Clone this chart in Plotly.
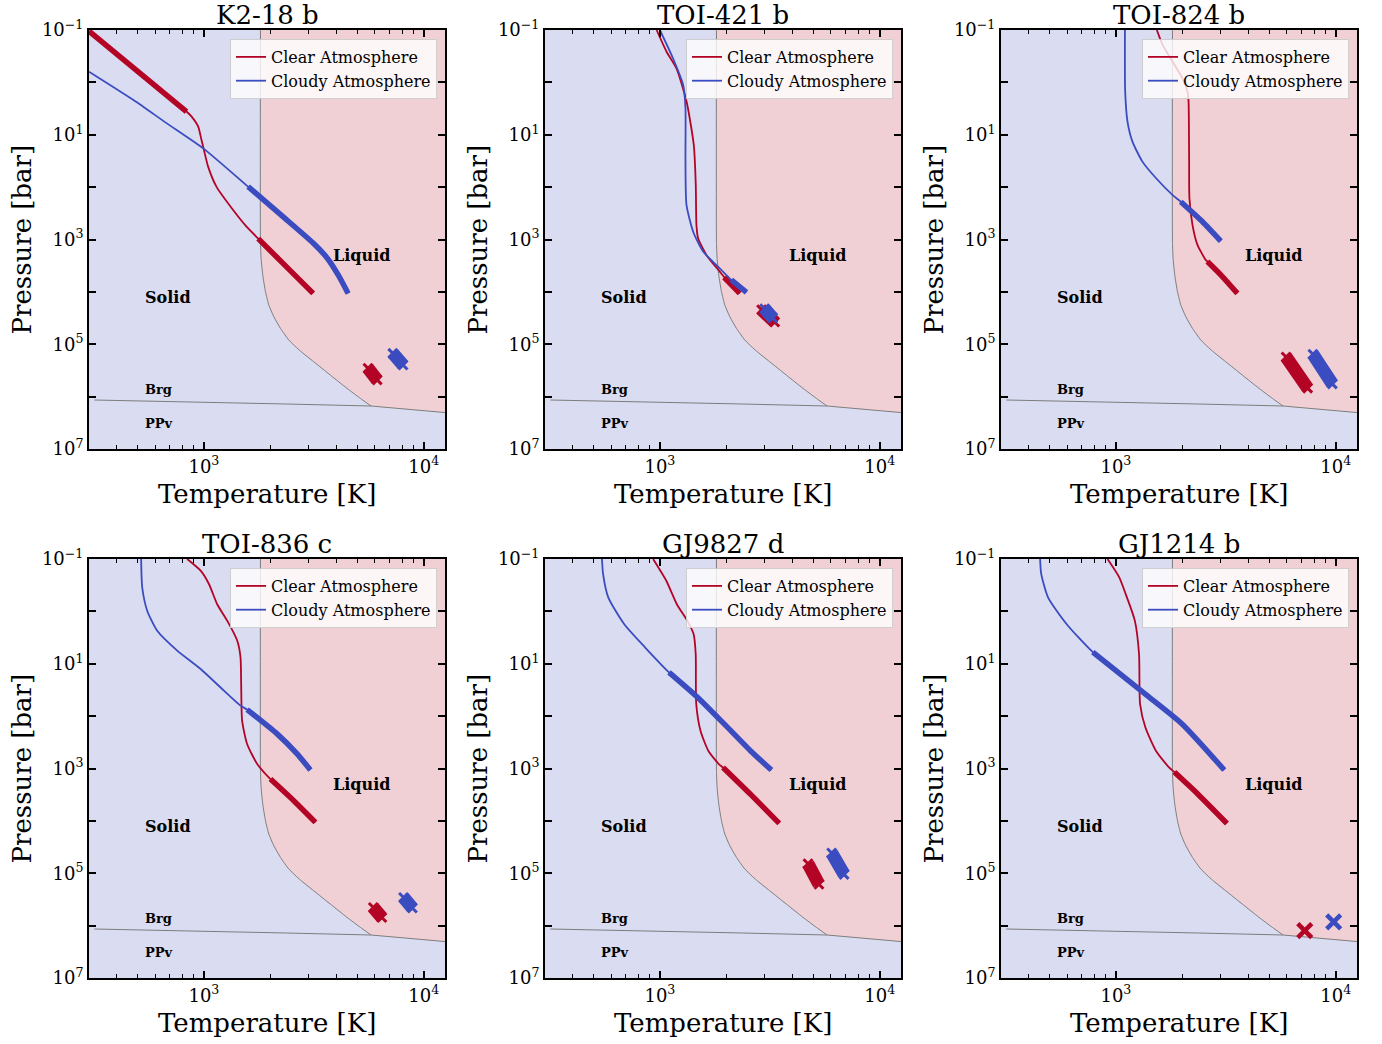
import numpy as np
import plotly.graph_objects as go

# ---------------- data ----------------
PLANETS = ["K2-18 b", "TOI-421 b", "TOI-824 b", "TOI-836 c", "GJ9827 d", "GJ1214 b"]

# phase boundaries (shared)
MELT_T = [1808, 1808, 1820, 1852, 1906, 1974, 2080, 2230, 2433, 2748, 3160, 3760, 4480, 5150, 5758]
MELT_P = [0.08, 1100, 2290, 4770, 9930, 1.79e4, 2.98e4, 4.98e4, 8.3e4, 1.35e5, 2.16e5, 3.88e5, 6.97e5, 1.08e6, 1.51e6]
BRG_T = [317, 811, 2308, 5758, 12300, 14000]
BRG_P = [1.16e6, 1.25e6, 1.38e6, 1.51e6, 2.03e6, 2.1e6]

# K2-18 b
K218_CLEAR_T = [300, 833, 879, 942, 975, 1000, 1045, 1140, 1358, 1563, 1766, 2370, 3140]
K218_CLEAR_P = [0.105, 3.6, 4.5, 7.0, 12.6, 19.5, 40.6, 98, 274, 570, 960, 3300, 10700]
K218_CLEAR_THICK_T = [300, 833, None, 1766, 2370, 3140]
K218_CLEAR_THICK_P = [0.105, 3.6, None, 960, 3300, 10700]
K218_CLOUDY_T = [300, 478, 676, 993, 1589, 2290, 3140, 3650, 4100, 4530]
K218_CLOUDY_P = [0.625, 2.17, 6.0, 18.2, 98, 367, 1170, 2300, 4900, 10700]
K218_CLOUDY_THICK_T = [1589, 2290, 3140, 3650, 4100, 4530]
K218_CLOUDY_THICK_P = [98, 367, 1170, 2300, 4900, 10700]
K218_MK_CLEAR_T = [5580, 6140]
K218_MK_CLEAR_P = [2.88e5, 4.8e5]
K218_MK_CLOUDY_T = [7240, 8050]
K218_MK_CLOUDY_P = [1.49e5, 2.49e5]

# TOI-421 b
T421_CLEAR_T = [966, 1072, 1189, 1321, 1426, 1456, 1466, 1492, 1629, 1872, 2010, 2307]
T421_CLEAR_P = [0.1, 0.26, 0.54, 2.3, 15.7, 91, 525, 950, 1990, 4100, 5900, 10700]
T421_CLEAR_THICK_T = [1960, 2307]
T421_CLEAR_THICK_P = [5300, 10700]
T421_CLOUDY_T = [1000, 1148, 1276, 1307, 1307, 1321, 1417, 1572, 1872, 2113, 2477]
T421_CLOUDY_P = [0.1, 0.35, 1.12, 3.1, 28, 218, 710, 1700, 3550, 5900, 10200]
T421_CLOUDY_THICK_T = [2113, 2477]
T421_CLOUDY_THICK_P = [5900, 10200]
T421_MK_CLEAR_T = [2904, 3327]
T421_MK_CLEAR_P = [2.2e4, 3.76e4]
T421_MK_CLOUDY_T = [2998, 3260]
T421_MK_CLOUDY_P = [2.1e4, 3.15e4]

# TOI-824 b
T824_CLEAR_T = [1535, 1629, 1808, 2008, 2117, 2140, 2153, 2160, 2230, 2350, 2563, 2608, 3050, 3570]
T824_CLEAR_P = [0.1, 0.19, 0.40, 0.84, 1.5, 2.3, 28, 163, 525, 1270, 2460, 2640, 5100, 10700]
T824_CLEAR_THICK_T = [2608, 3050, 3570]
T824_CLEAR_THICK_P = [2640, 5100, 10700]
T824_CLOUDY_T = [1099, 1102, 1129, 1189, 1320, 1520, 1808, 1972, 2477, 3000]
T824_CLOUDY_P = [0.1, 1.5, 5.6, 13.5, 32.6, 67, 141, 190, 457, 1070]
T824_CLOUDY_THICK_T = [1972, 2477, 3000]
T824_CLOUDY_THICK_P = [190, 457, 1070]
T824_MK_CLEAR_T = [5950, 7450]
T824_MK_CLEAR_P = [1.75e5, 6.9e5]
T824_MK_CLOUDY_T = [7880, 9650]
T824_MK_CLOUDY_P = [1.55e5, 5.7e5]

# TOI-836 c
T836_CLEAR_T = [839, 966, 1054, 1149, 1276, 1417, 1467, 1478, 1492, 1572, 1748, 1972, 2008, 2563, 3217]
T836_CLEAR_P = [0.1, 0.167, 0.30, 0.73, 1.5, 3.6, 7.5, 28, 122, 340, 820, 1480, 1590, 4120, 10700]
T836_CLEAR_THICK_T = [2008, 2563, 3217]
T836_CLEAR_THICK_P = [1590, 4120, 10700]
T836_CLOUDY_T = [518, 524, 552, 613, 756, 966, 1233, 1467, 1572, 2153, 2655, 3053]
T836_CLOUDY_P = [0.1, 0.35, 0.97, 2.34, 5.6, 12.6, 32.6, 63, 75, 218, 525, 1070]
T836_CLOUDY_THICK_T = [1572, 2153, 2655, 3053]
T836_CLOUDY_THICK_P = [75, 218, 525, 1070]
T836_MK_CLEAR_T = [5900, 6450]
T836_MK_CLEAR_P = [4.5e5, 7.0e5]
T836_MK_CLOUDY_T = [8100, 8880]
T836_MK_CLOUDY_P = [2.9e5, 4.6e5]

# GJ9827 d
G9827_CLEAR_T = [931, 1069, 1194, 1331, 1423, 1455, 1463, 1530, 1660, 1853, 1937, 2580, 3490]
G9827_CLEAR_P = [0.1, 0.26, 0.73, 1.5, 2.7, 6.5, 59, 190, 457, 822, 955, 3090, 11200]
G9827_CLEAR_THICK_T = [1937, 2580, 3490]
G9827_CLEAR_THICK_P = [955, 3090, 11200]
G9827_CLOUDY_T = [545, 551, 582, 687, 857, 1100, 1486, 1960, 2580, 3216]
G9827_CLOUDY_P = [0.1, 0.19, 0.54, 1.74, 4.9, 14.6, 44, 141, 457, 1070]
G9827_CLOUDY_THICK_T = [1100, 1486, 1960, 2580, 3216]
G9827_CLOUDY_THICK_P = [14.6, 44, 141, 457, 1070]
G9827_MK_CLEAR_T = [4720, 5290]
G9827_MK_CLEAR_P = [6.6e4, 1.62e5]
G9827_MK_CLOUDY_T = [6050, 6880]
G9827_MK_CLOUDY_P = [4.1e4, 1.05e5]

# GJ1214 b
G1214_CLEAR_T = [916, 1033, 1122, 1219, 1274, 1288, 1361, 1520, 1744, 1844, 2362, 3200]
G1214_CLEAR_P = [0.1, 0.22, 0.54, 1.5, 6.5, 59, 163, 457, 955, 1170, 3090, 11200]
G1214_CLEAR_THICK_T = [1844, 2362, 3200]
G1214_CLEAR_THICK_P = [1170, 3090, 11200]
G1214_CLOUDY_T = [452, 457, 491, 596, 785, 1361, 2000, 3112]
G1214_CLOUDY_P = [0.1, 0.19, 0.54, 1.74, 6.0, 38, 141, 1070]
G1214_CLOUDY_THICK_T = [785, 1361, 2000, 3112]
G1214_CLOUDY_THICK_P = [6.0, 38, 141, 1070]
G1214_MK_CLEAR_T = [7230]
G1214_MK_CLEAR_P = [1.25e6]
G1214_MK_CLOUDY_T = [9790]
G1214_MK_CLOUDY_P = [8.5e5]

X_TICKVALS = [1000, 10000]
X_TICKTEXT = ["10<sup>3</sup>", "10<sup>4</sup>"]
X_MINOR = [400, 500, 600, 700, 800, 900, 2000, 3000, 4000, 5000, 6000, 7000, 8000, 9000]
Y_TICKVALS = [0.1, 1, 10, 100, 1e3, 1e4, 1e5, 1e6, 1e7]
Y_TICKTEXT = ["10<sup>\u22121</sup>", "", "10<sup>1</sup>", "", "10<sup>3</sup>", "", "10<sup>5</sup>", "", "10<sup>7</sup>"]

PANELS = [
    (K218_CLEAR_T, K218_CLEAR_P, K218_CLEAR_THICK_T, K218_CLEAR_THICK_P, K218_CLOUDY_T, K218_CLOUDY_P,
     K218_CLOUDY_THICK_T, K218_CLOUDY_THICK_P, K218_MK_CLEAR_T, K218_MK_CLEAR_P, K218_MK_CLOUDY_T, K218_MK_CLOUDY_P),
    (T421_CLEAR_T, T421_CLEAR_P, T421_CLEAR_THICK_T, T421_CLEAR_THICK_P, T421_CLOUDY_T, T421_CLOUDY_P,
     T421_CLOUDY_THICK_T, T421_CLOUDY_THICK_P, T421_MK_CLEAR_T, T421_MK_CLEAR_P, T421_MK_CLOUDY_T, T421_MK_CLOUDY_P),
    (T824_CLEAR_T, T824_CLEAR_P, T824_CLEAR_THICK_T, T824_CLEAR_THICK_P, T824_CLOUDY_T, T824_CLOUDY_P,
     T824_CLOUDY_THICK_T, T824_CLOUDY_THICK_P, T824_MK_CLEAR_T, T824_MK_CLEAR_P, T824_MK_CLOUDY_T, T824_MK_CLOUDY_P),
    (T836_CLEAR_T, T836_CLEAR_P, T836_CLEAR_THICK_T, T836_CLEAR_THICK_P, T836_CLOUDY_T, T836_CLOUDY_P,
     T836_CLOUDY_THICK_T, T836_CLOUDY_THICK_P, T836_MK_CLEAR_T, T836_MK_CLEAR_P, T836_MK_CLOUDY_T, T836_MK_CLOUDY_P),
    (G9827_CLEAR_T, G9827_CLEAR_P, G9827_CLEAR_THICK_T, G9827_CLEAR_THICK_P, G9827_CLOUDY_T, G9827_CLOUDY_P,
     G9827_CLOUDY_THICK_T, G9827_CLOUDY_THICK_P, G9827_MK_CLEAR_T, G9827_MK_CLEAR_P, G9827_MK_CLOUDY_T, G9827_MK_CLOUDY_P),
    (G1214_CLEAR_T, G1214_CLEAR_P, G1214_CLEAR_THICK_T, G1214_CLEAR_THICK_P, G1214_CLOUDY_T, G1214_CLOUDY_P,
     G1214_CLOUDY_THICK_T, G1214_CLOUDY_THICK_P, G1214_MK_CLEAR_T, G1214_MK_CLEAR_P, G1214_MK_CLOUDY_T, G1214_MK_CLOUDY_P),
]

# ---------------- styling ----------------
W, H = 1382, 1044
RED = "#b40426"
BLUE = "#3b4cc0"
SOLID_BG = "rgb(218,220,241)"
LIQUID_BG = "rgb(240,208,213)"
GRAY = "rgb(125,125,125)"
FONT = "DejaVu Serif"

COL_LEFT = [89, 545, 1001]
COL_W = 356
ROW_TOP = [30, 559]
ROW_H = 419

fig = go.Figure()
layout = dict(
    width=W, height=H, margin=dict(l=0, r=0, t=0, b=0, autoexpand=False),
    paper_bgcolor="white", plot_bgcolor=SOLID_BG,
    font=dict(family=FONT, color="black"),
    annotations=[],
)

# liquid region polygon (melting curve -> Brg/PPv boundary -> right edge)
poly_T = MELT_T + BRG_T[4:] + [BRG_T[-1], MELT_T[0]]
poly_P = MELT_P + BRG_P[4:] + [MELT_P[0], MELT_P[0]]

for i, name in enumerate(PLANETS):
    k = i + 1
    sfx = "" if k == 1 else str(k)
    xa, ya = "x" + sfx, "y" + sfx
    r, c = divmod(i, 3)
    left = COL_LEFT[c]
    top = ROW_TOP[r]
    x0, x1 = left / W, (left + COL_W) / W
    y1, y0 = 1 - top / H, 1 - (top + ROW_H) / H

    (cT, cP, ctT, ctP, dT, dP, dtT, dtP, mcT, mcP, mdT, mdP) = PANELS[i]
    leg = "legend" + sfx

    fig.add_trace(go.Scatter(x=poly_T, y=poly_P, xaxis=xa, yaxis=ya, mode="lines", fill="toself",
                             fillcolor=LIQUID_BG, line=dict(width=0), showlegend=False, hoverinfo="skip"))
    fig.add_trace(go.Scatter(x=MELT_T, y=MELT_P, xaxis=xa, yaxis=ya, mode="lines",
                             line=dict(color=GRAY, width=1, shape="spline", smoothing=0.5),
                             showlegend=False, hoverinfo="skip"))
    fig.add_trace(go.Scatter(x=BRG_T, y=BRG_P, xaxis=xa, yaxis=ya, mode="lines",
                             line=dict(color=GRAY, width=1), showlegend=False, hoverinfo="skip"))
    # clear atmosphere
    fig.add_trace(go.Scatter(x=cT, y=cP, xaxis=xa, yaxis=ya, mode="lines", name="Clear Atmosphere",
                             line=dict(color=RED, width=1.8, shape="spline", smoothing=0.6),
                             legend=leg, showlegend=True))
    fig.add_trace(go.Scatter(x=ctT, y=ctP, xaxis=xa, yaxis=ya, mode="lines",
                             line=dict(color=RED, width=5.5, shape="spline", smoothing=0.6),
                             showlegend=False))
    # cloudy atmosphere
    fig.add_trace(go.Scatter(x=dT, y=dP, xaxis=xa, yaxis=ya, mode="lines", name="Cloudy Atmosphere",
                             line=dict(color=BLUE, width=1.8, shape="spline", smoothing=0.6),
                             legend=leg, showlegend=True))
    fig.add_trace(go.Scatter(x=dtT, y=dtP, xaxis=xa, yaxis=ya, mode="lines",
                             line=dict(color=BLUE, width=5.5, shape="spline", smoothing=0.6),
                             showlegend=False))
    # interior state samples
    for mT, mP, col in ((mcT, mcP, RED), (mdT, mdP, BLUE)):
        single = len(mT) == 1
        fig.add_trace(go.Scatter(x=mT, y=mP, xaxis=xa, yaxis=ya,
                                 mode="markers" if single else "lines+markers",
                                 line=dict(color=col, width=13),
                                 marker=dict(symbol="x-thin", size=14 if single else 9, color=col,
                                             line=dict(color=col, width=4.5 if single else 3)),
                                 showlegend=False))

    layout["xaxis" + sfx] = dict(
        type="log", range=[np.log10(300), np.log10(12500)], domain=[x0, x1], anchor=ya,
        showline=True, linecolor="black", linewidth=2, mirror="allticks",
        ticks="inside", ticklen=7, tickwidth=1.5, tickcolor="black",
        tickvals=X_TICKVALS, ticktext=X_TICKTEXT, tickfont=dict(family=FONT, size=18, color="black"),
        showgrid=False, zeroline=False,
        minor=dict(ticks="inside", ticklen=4, tickwidth=1.2, tickcolor="black",
                   tickvals=X_MINOR, showgrid=False),
    )
    layout["yaxis" + sfx] = dict(
        type="log", range=[7, -1], domain=[y0, y1], anchor=xa,
        showline=True, linecolor="black", linewidth=2, mirror="allticks",
        ticks="inside", ticklen=7, tickwidth=1.5, tickcolor="black",
        tickvals=Y_TICKVALS, ticktext=Y_TICKTEXT, tickfont=dict(family=FONT, size=18, color="black"),
        showgrid=False, zeroline=False,
    )
    layout[leg] = dict(
        x=(left + 348) / W, y=1 - (top + 9) / H, xanchor="right", yanchor="top",
        bgcolor="rgba(255,255,255,0.8)", bordercolor="rgba(204,204,204,0.9)", borderwidth=1,
        font=dict(family=FONT, size=16, color="black"), tracegroupgap=0,
    )

    cx = (left + COL_W / 2) / W
    ann = layout["annotations"]
    ann.append(dict(text=name, x=cx, y=y1, xref="paper", yref="paper", xanchor="center",
                    yanchor="bottom", yshift=-2, showarrow=False, font=dict(family=FONT, size=26)))
    ann.append(dict(text="Temperature [K]", x=cx, y=1 - (top + ROW_H + 45) / H, xref="paper", yref="paper",
                    xanchor="center", yanchor="middle", showarrow=False, font=dict(family=FONT, size=26)))
    ann.append(dict(text="Pressure [bar]", x=(left - 68) / W, y=1 - (top + ROW_H / 2) / H, xref="paper",
                    yref="paper", xanchor="center", yanchor="middle", textangle=-90, showarrow=False,
                    font=dict(family=FONT, size=26)))
    for txt, T, P, sz in (("Solid", 527, 1.26e4, 16), ("Liquid", 3780, 1980, 16),
                          ("Brg", 527, 7.4e5, 13), ("PPv", 527, 3.2e6, 13)):
        ann.append(dict(text="<b>" + txt + "</b>", x=np.log10(T), y=np.log10(P), xref=xa, yref=ya,
                        xanchor="left", yanchor="middle", showarrow=False,
                        font=dict(family=FONT, size=sz, color="black")))

fig.update_layout(**layout)
fig.write_html("out.html")
